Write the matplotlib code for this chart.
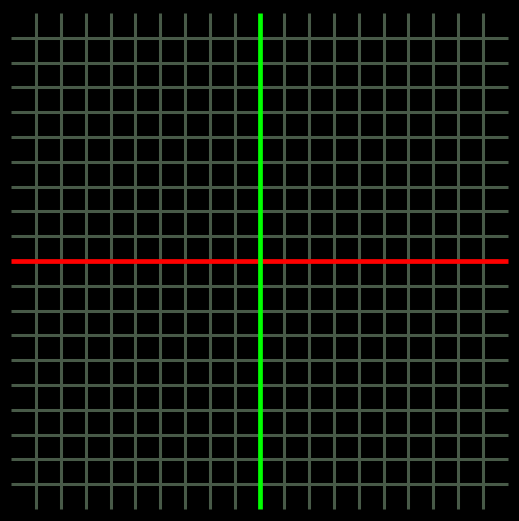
import matplotlib
matplotlib.use('Agg')
import matplotlib.pyplot as plt

# grid data
grid_positions = list(range(-9, 10))  # interior grid lines
grid_half = 10                         # grid extends -10..10
axis_x_color = '#ff0000'
axis_y_color = '#00ff00'
grid_color = '#485a48'

fig = plt.figure(figsize=(5.19, 5.21), dpi=100, facecolor='black')
ax = fig.add_axes([0, 0, 1, 1])
ax.set_facecolor('black')

# grid lines
for p in grid_positions:
    if p != 0:
        ax.plot([-grid_half, grid_half], [p, p], color=grid_color, lw=2.2, solid_capstyle='butt')
        ax.plot([p, p], [-grid_half, grid_half], color=grid_color, lw=2.2, solid_capstyle='butt')

# center lines
ax.plot([-grid_half, grid_half], [0, 0], color=axis_x_color, lw=3.4, solid_capstyle='butt')
ax.plot([0, 0], [-grid_half, grid_half], color=axis_y_color, lw=3.4, solid_capstyle='butt')

ax.set_xlim(-10.46, 10.46)
ax.set_ylim(-10.48, 10.52)
ax.axis('off')

fig.savefig('out.png', dpi=100, facecolor='black')
